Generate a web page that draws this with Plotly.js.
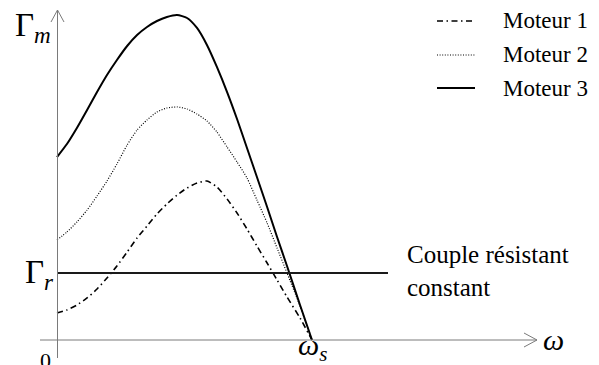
<!DOCTYPE html>
<html>
<head>
<meta charset="utf-8">
<script src="https://cdn.plot.ly/plotly-3.0.1.min.js"></script>
<style>html,body{margin:0;padding:0;background:#fff;}#chart{width:599px;height:365px;}</style>
</head>
<body>
<div id="chart"></div>
<script>
// ω / ω_s (shared abscissa grid)
const omega = [0, 0.039, 0.078, 0.118, 0.157, 0.196, 0.235, 0.275, 0.314, 0.353, 0.392, 0.431, 0.471,
               0.510, 0.549, 0.588, 0.627, 0.667, 0.706, 0.745, 0.784, 0.824, 0.863, 0.902, 0.953, 1];
// Γ_m / Γ_r for each motor
const moteur1 = [0.403, 0.448, 0.522, 0.627, 0.761, 0.925, 1.104, 1.313, 1.522, 1.701, 1.881, 2.030, 2.164,
                 2.269, 2.343, 2.373, 2.284, 2.104, 1.896, 1.657, 1.403, 1.149, 0.896, 0.642, 0.328, 0];
const moteur2 = [1.493, 1.612, 1.761, 1.940, 2.149, 2.373, 2.627, 2.910, 3.134, 3.284, 3.403, 3.463, 3.478,
                 3.448, 3.373, 3.269, 3.104, 2.881, 2.657, 2.418, 2.090, 1.746, 1.373, 1.000, 0.507, 0];
const moteur3 = [2.731, 2.925, 3.164, 3.433, 3.701, 3.955, 4.179, 4.388, 4.552, 4.672, 4.761, 4.821, 4.851,
                 4.806, 4.657, 4.403, 4.075, 3.701, 3.299, 2.866, 2.433, 1.985, 1.537, 1.104, 0.522, 0];
// constant load torque
const resistX = [0, 1.298];
const resistY = [1, 1];
const seriesNames = ["Moteur 1", "Moteur 2", "Moteur 3"];

// layout helpers (pixel -> data / paper)
const W = 599, H = 365;
const X0 = 57, Y0 = 340, SX = 255, SY = 67;
const xd = p => (p - X0) / SX;
const yd = p => (Y0 - p) / SY;
const xp = p => p / W;
const yp = p => 1 - p / H;

const styles = [
  {color: "#000", width: 1.6, dash: "6px,3.5px,1.5px,3.5px"},
  {color: "#000", width: 1.2, dash: "1px,1.6px"},
  {color: "#000", width: 2, dash: "solid"}
];
const ys = [moteur1, moteur2, moteur3];

const traces = ys.map((y, i) => ({
  x: omega, y: y, type: "scatter", mode: "lines", name: seriesNames[i],
  line: Object.assign({shape: "spline", smoothing: 0.6}, styles[i]),
  showlegend: false, hoverinfo: "skip"
}));
traces.push({x: resistX, y: resistY, type: "scatter", mode: "lines", name: "Couple résistant constant",
  line: {color: "#1a1a1a", width: 2.2}, showlegend: false, hoverinfo: "skip"});

const axisCol = "#7a7a7a";
const shapes = [
  // x axis
  {type: "line", xref: "x", yref: "y", x0: xd(40), x1: xd(537), y0: yd(340), y1: yd(340), line: {color: axisCol, width: 1}},
  {type: "path", xref: "x", yref: "y", path: `M${xd(524)},${yd(333)} L${xd(537)},${yd(340)} L${xd(524)},${yd(347)}`, line: {color: axisCol, width: 1}},
  // y axis
  {type: "line", xref: "x", yref: "y", x0: xd(57.5), x1: xd(57.5), y0: yd(358), y1: yd(10), line: {color: axisCol, width: 1}},
  {type: "path", xref: "x", yref: "y", path: `M${xd(51)},${yd(22)} L${xd(57.5)},${yd(10)} L${xd(64)},${yd(22)}`, line: {color: axisCol, width: 1}}
];
// legend samples
const legY = [21, 55, 88];
legY.forEach((py, i) => {
  shapes.push({type: "line", xref: "paper", yref: "paper", x0: xp(437), x1: xp(475), y0: yp(py), y1: yp(py),
    line: {color: styles[i].color, width: styles[i].width, dash: styles[i].dash}});
});

const serif = "Liberation Serif";
const ann = (text, x, y, size, xa, ya) => ({text: text, x: xp(x), y: yp(y), xref: "paper", yref: "paper",
  showarrow: false, xanchor: xa || "left", yanchor: ya || "middle", font: {family: serif, size: size, color: "#000"}});

const annotations = [
  ann("Γ<sub><i>m</i></sub>", 13, 27, 33),
  ann("Γ<sub><i>r</i></sub>", 23, 274, 33),
  ann("0", 45, 360, 22, "center"),
  ann("<i>ω</i><sub><i>s</i></sub>", 296, 347, 30),
  ann("<i>ω</i>", 541, 339, 30),
  ann("Couple résistant", 405, 254, 25),
  ann("constant", 405, 287, 25)
];
legY.forEach((py, i) => annotations.push(ann(seriesNames[i], 501, py, 23)));

const layout = {
  width: W, height: H, margin: {l: 0, r: 0, t: 0, b: 0},
  paper_bgcolor: "#fff", plot_bgcolor: "#fff",
  font: {family: serif},
  xaxis: {range: [xd(0), xd(W)], visible: false, fixedrange: true},
  yaxis: {range: [yd(H), yd(0)], visible: false, fixedrange: true},
  shapes: shapes, annotations: annotations, showlegend: false
};
Plotly.newPlot("chart", traces, layout, {staticPlot: true, displayModeBar: false});
</script>
</body>
</html>
